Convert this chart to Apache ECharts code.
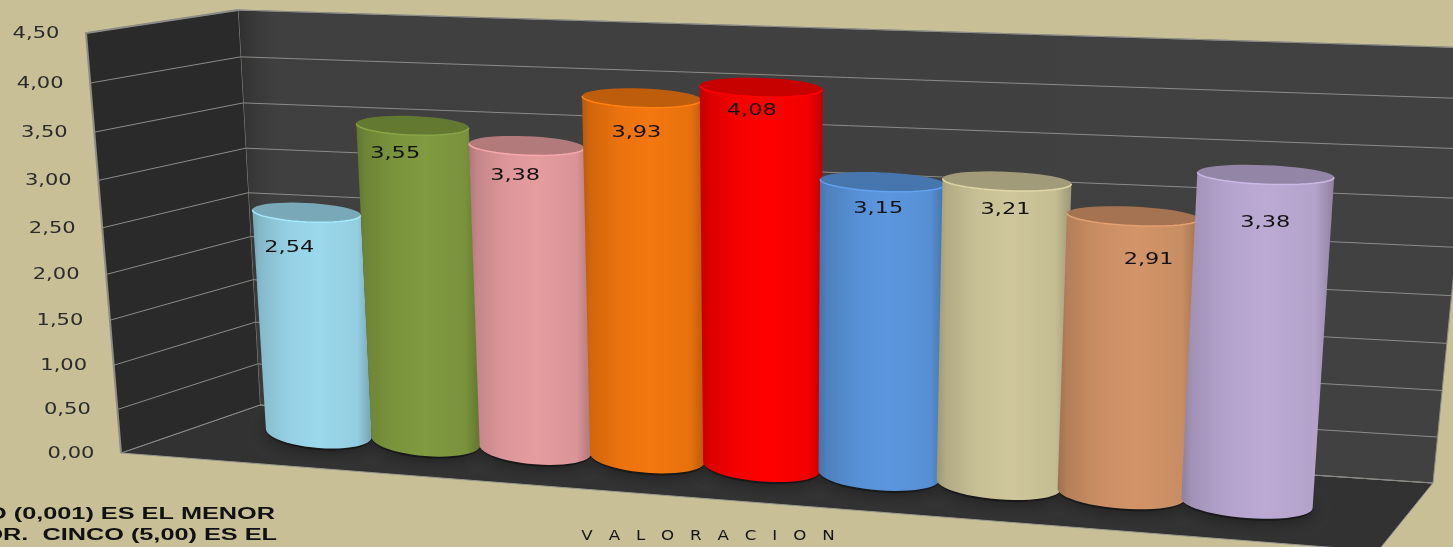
<!DOCTYPE html>
<html>
<head>
<meta charset="utf-8">
<style>
  html, body { margin: 0; padding: 0; background: #c8bf97; overflow: hidden; }
  #chart { width: 1453px; height: 547px; }
</style>
<script src="https://cdn.jsdelivr.net/npm/echarts@6/dist/echarts.min.js"></script>
</head>
<body>
<div id="chart"></div>
<script>
const categories = ["1", "2", "3", "4", "5", "6", "7", "8", "9"];
const values = [2.54, 3.55, 3.38, 3.93, 4.08, 3.15, 3.21, 2.91, 3.38];
const barColors = ["#9bd8ec", "#7f9a3f", "#e59c9f", "#f4770f", "#ff0000", "#5b96de", "#cfc79b", "#d39468", "#bcaad4"];
const yTicks = [0, 0.5, 1, 1.5, 2, 2.5, 3, 3.5, 4, 4.5];
const yTickLabels = ["0,00", "0,50", "1,00", "1,50", "2,00", "2,50", "3,00", "3,50", "4,00", "4,50"];
const dataLabels = ["2,54", "3,55", "3,38", "3,93", "4,08", "3,15", "3,21", "2,91", "3,38"];
const axisName = "V   A   L   O   R   A   C   I   O   N";
const noteLines = ["O (0,001) ES EL MENOR", "OR.  CINCO (5,00) ES EL"];

const FONT = '"DejaVu Sans"';
const NOTE_FONT = '"Liberation Sans"';
const MAX_Y = 4.5;

// maps the unit square to a quad: (0,0) p0, (1,0) p1, (1,1) p2, (0,1) p3
function makePlane(p0, p1, p2, p3) {
  const dx1 = p1[0] - p2[0], dx2 = p3[0] - p2[0], dx3 = p0[0] - p1[0] + p2[0] - p3[0];
  const dy1 = p1[1] - p2[1], dy2 = p3[1] - p2[1], dy3 = p0[1] - p1[1] + p2[1] - p3[1];
  const den = dx1 * dy2 - dx2 * dy1;
  const g = (dx3 * dy2 - dx2 * dy3) / den;
  const h = (dx1 * dy3 - dx3 * dy1) / den;
  const a = p1[0] - p0[0] + g * p1[0], b = p3[0] - p0[0] + h * p3[0], c = p0[0];
  const d = p1[1] - p0[1] + g * p1[1], e = p3[1] - p0[1] + h * p3[1], f = p0[1];
  return (s, t) => {
    const w = g * s + h * t + 1;
    return [(a * s + b * t + c) / w, (d * s + e * t + f) / w];
  };
}

// wall and floor corners
const leftFrontBottom = [121, 453], leftFrontTop = [86, 33];
const backLeftBottom = [260, 405], backLeftTop = [238, 10];
const backRightBottom = [1433, 483], backRightTop = [1476, 48];
const frontRightBottom = [1378, 551];

const leftWall = makePlane(leftFrontBottom, backLeftBottom, backLeftTop, leftFrontTop);
const backWall = makePlane(backLeftBottom, backRightBottom, backRightTop, backLeftTop);

// plane through the bar axes, s=0 at first band centre, s=1 at last band centre
const barPlane = makePlane([318.5, 433], [1246.5, 503], [1271.8, 60], [296.4, 34]);
const BAR_RADIUS = 0.0635;
const RY_TOP = 9.5, RY_BASE = 15;
const BOW = 0.017; // the middle bars sit a little further right than the pure perspective

// hand offsets of the value labels from the top of each bar
const labelNudge = [[-17, 35], [-17, 28], [-11, 30], [-5, 35], [-9, 23], [-4, 27], [-1, 29], [16, 44], [0, 48]];

function shade(hex, k) {
  const n = parseInt(hex.slice(1), 16);
  const ch = (v) => Math.max(0, Math.min(255, Math.round(v * k)));
  return "rgb(" + ch((n >> 16) & 255) + "," + ch((n >> 8) & 255) + "," + ch(n & 255) + ")";
}

function barUnit(params, api, i, v) {
  const cs = params.coordSys;
  const pt = api.coord([i, v]);
  const u = (pt[0] - cs.x) / cs.width;
  const t = (cs.y + cs.height - pt[1]) / cs.height;
  const s = (u - 0.5 / 9) / (8 / 9);
  return [s + BOW * s * (1 - s), t];
}

function ringPoints(st, ry, from, to, n) {
  const pts = [];
  for (let k = 0; k <= n; k++) {
    const a = from + ((to - from) * k) / n;
    const p = barPlane(st[0] + BAR_RADIUS * Math.cos(a), st[1]);
    pts.push([p[0], p[1] + ry * Math.sin(a)]);
  }
  return pts;
}

function renderWalls() {
  const edge = "#8d8d85";
  return {
    type: "group",
    children: [
      {
        type: "polygon",
        shape: { points: [leftFrontBottom, backLeftBottom, backRightBottom, frontRightBottom] },
        style: { fill: "#323232", stroke: "#9a9a90", lineWidth: 1 },
      },
      {
        type: "polygon",
        shape: { points: [backLeftBottom, backRightBottom, backRightTop, backLeftTop] },
        style: {
          fill: {
            type: "linear", x: 0, y: 0, x2: 1, y2: 0,
            colorStops: [
              { offset: 0, color: "#303030" },
              { offset: 0.012, color: "#383838" },
              { offset: 0.03, color: "#404040" },
              { offset: 1, color: "#414141" },
            ],
          },
          stroke: edge,
          lineWidth: 1,
        },
      },
      {
        type: "polygon",
        shape: { points: [leftFrontBottom, backLeftBottom, backLeftTop, leftFrontTop] },
        style: { fill: "#2a2a2a" },
      },
      {
        type: "polyline",
        shape: { points: [leftFrontBottom, leftFrontTop, backLeftTop] },
        style: { fill: "none", stroke: edge, lineWidth: 2 },
      },
    ],
  };
}

function renderGridline(params, api) {
  const idx = params.dataIndex;
  const t = api.value(1) / MAX_Y;
  const front = leftWall(0, t);
  const corner = leftWall(1, t);
  const right = backWall(1, t);
  const lineStyle = { stroke: "#8b8b88", lineWidth: 1 };
  return {
    type: "group",
    children: [
      { type: "polyline", shape: { points: [front, corner, right] }, style: { fill: "none", ...lineStyle } },
      {
        type: "text",
        x: front[0] - 50,
        y: front[1] + 1,
        scaleX: 1.4,
        style: {
          text: yTickLabels[idx],
          font: "15px " + FONT,
          fill: "#2b2b2b",
          textAlign: "center",
          textVerticalAlign: "middle",
        },
      },
    ],
  };
}

function renderShadow(params, api) {
  const st = barUnit(params, api, api.value(0), 0);
  const pts = ringPoints(st, RY_BASE + 1, 0, Math.PI * 2, 40).map((p) => [p[0], p[1] + 1]);
  return {
    type: "polygon",
    shape: { points: pts },
    style: { fill: "rgba(20,20,20,0.75)", shadowBlur: 16, shadowColor: "rgba(15,15,15,0.9)" },
  };
}

function renderBar(params, api) {
  const i = api.value(0);
  const color = barColors[i];
  const base = barUnit(params, api, i, 0);
  const top = barUnit(params, api, i, api.value(1));

  const rim = ringPoints(top, RY_TOP, Math.PI, 0, 24);
  const bottom = ringPoints(base, RY_BASE, Math.PI, 0, 24);
  const body = [rim[0], ...bottom, rim[rim.length - 1]];
  const cap = ringPoints(top, RY_TOP, 0, Math.PI * 2, 48);
  const topCentre = barPlane(top[0], top[1]);

  return {
    type: "group",
    children: [
      {
        type: "polygon",
        shape: { points: body },
        style: {
          fill: {
            type: "linear", x: 0, y: 0, x2: 1, y2: 0,
            colorStops: [
              { offset: 0, color: shade(color, 0.76) },
              { offset: 0.07, color: shade(color, 0.86) },
              { offset: 0.3, color: shade(color, 0.96) },
              { offset: 0.55, color: shade(color, 1) },
              { offset: 0.88, color: shade(color, 0.95) },
              { offset: 1, color: shade(color, 0.76) },
            ],
          },
        },
      },
      {
        type: "polygon",
        shape: { points: cap },
        style: { fill: shade(color, 0.78) },
      },
      {
        type: "polyline",
        shape: { points: rim },
        style: { fill: "none", stroke: shade(color, 1.08), lineWidth: 1.5 },
      },
      {
        type: "text",
        x: topCentre[0] + labelNudge[i][0],
        y: topCentre[1] + labelNudge[i][1],
        scaleX: 1.4,
        style: {
          text: dataLabels[i],
          font: "16px " + FONT,
          fill: "#111111",
          textAlign: "center",
          textVerticalAlign: "middle",
        },
      },
    ],
  };
}

const chart = echarts.init(document.getElementById("chart"));
const barData = values.map((v, i) => [i, v]);

chart.setOption({
  backgroundColor: "#c8bf97",
  animation: false,
  grid: { left: 0, right: 0, top: 0, bottom: 0 },
  xAxis: { type: "category", data: categories, show: false },
  yAxis: { type: "value", min: 0, max: MAX_Y, interval: 0.5, show: false },
  graphic: [
    {
      type: "text", x: 275, y: 515, scaleX: 1.58, silent: true,
      style: { text: noteLines[0], font: "bold 16px " + NOTE_FONT, fill: "#111111", textAlign: "right", textVerticalAlign: "middle" },
    },
    {
      type: "text", x: 277, y: 536, scaleX: 1.58, silent: true,
      style: { text: noteLines[1], font: "bold 16px " + NOTE_FONT, fill: "#111111", textAlign: "right", textVerticalAlign: "middle" },
    },
    {
      type: "text", x: 708, y: 536, scaleX: 1.19, silent: true,
      style: { text: axisName, font: "14px " + FONT, fill: "#151515", textAlign: "center", textVerticalAlign: "middle" },
    },
  ],
  series: [
    { type: "custom", name: "walls", silent: true, clip: false, data: [[0, 0]], renderItem: renderWalls, z: 1 },
    { type: "custom", name: "gridlines", silent: true, clip: false, data: yTicks.map((v) => [0, v]), renderItem: renderGridline, z: 2 },
    { type: "custom", name: "shadows", silent: true, clip: false, data: barData, renderItem: renderShadow, z: 3 },
    { type: "custom", name: "valoracion", silent: true, clip: false, data: barData, renderItem: renderBar, z: 4 },
  ],
});
</script>
</body>
</html>
